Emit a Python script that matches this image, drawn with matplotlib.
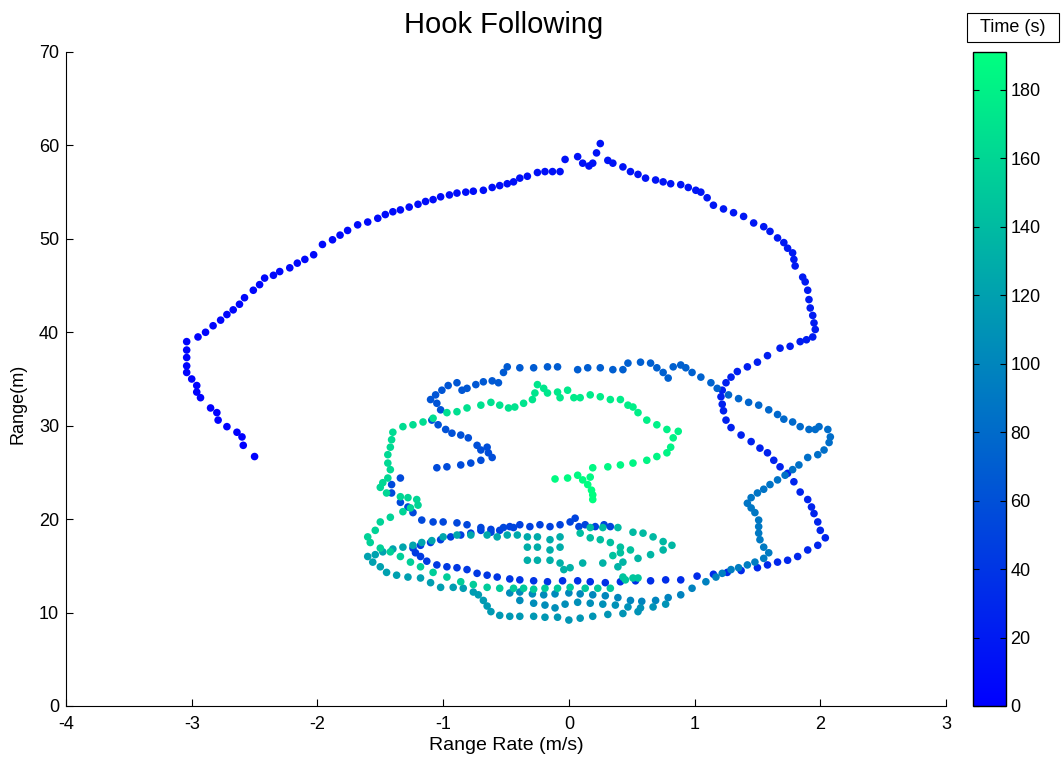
import numpy as np
import matplotlib
matplotlib.use("Agg")
import matplotlib.pyplot as plt
from matplotlib.patches import Rectangle

plt.rcParams['font.family'] = ['Liberation Sans', 'DejaVu Sans']
plt.rcParams['axes.unicode_minus'] = False

# Tracked target: (range rate m/s, range m, time s), one list per leg of the run
leg_outbound = [
    (-2.50, 26.7, 0.0), (-2.59, 27.9, 0.2), (-2.60, 28.8, 0.4), (-2.64, 29.3, 0.6),
    (-2.72, 29.9, 0.8), (-2.79, 30.6, 1.0), (-2.80, 31.4, 1.2), (-2.85, 31.9, 1.4),
    (-2.93, 33.0, 1.6), (-2.96, 33.6, 1.8), (-2.96, 34.3, 2.0), (-3.00, 35.0, 2.2),
    (-3.04, 35.7, 2.4), (-3.04, 36.4, 2.6), (-3.04, 37.3, 2.8), (-3.04, 38.1, 3.0),
    (-3.04, 39.0, 3.2), (-2.95, 39.5, 3.4), (-2.89, 40.0, 3.6), (-2.83, 40.7, 3.8),
    (-2.77, 41.3, 4.0), (-2.72, 41.9, 4.2), (-2.67, 42.4, 4.4), (-2.62, 43.0, 4.6),
    (-2.58, 43.7, 4.8), (-2.51, 44.5, 5.0), (-2.46, 45.1, 5.2), (-2.42, 45.8, 5.4),
    (-2.35, 46.1, 5.6), (-2.30, 46.5, 5.8), (-2.22, 46.9, 6.0), (-2.16, 47.4, 6.2),
    (-2.10, 47.8, 6.4), (-2.03, 48.3, 6.6), (-1.96, 49.4, 6.8), (-1.88, 49.9, 7.0),
    (-1.82, 50.4, 7.2), (-1.76, 50.9, 7.4), (-1.68, 51.5, 7.6), (-1.60, 51.8, 7.8),
    (-1.52, 52.2, 8.0), (-1.46, 52.6, 8.2), (-1.40, 52.9, 8.4), (-1.34, 53.1, 8.6),
    (-1.27, 53.4, 8.8), (-1.20, 53.7, 9.0), (-1.14, 54.0, 9.2), (-1.08, 54.2, 9.4),
    (-1.02, 54.5, 9.6), (-0.95, 54.7, 9.8), (-0.89, 54.9, 10.0), (-0.82, 55.0, 10.2),
    (-0.76, 55.1, 10.4), (-0.68, 55.2, 10.6), (-0.61, 55.5, 10.8), (-0.55, 55.7, 11.0),
    (-0.49, 55.9, 11.2), (-0.44, 56.1, 11.4), (-0.39, 56.5, 11.6), (-0.33, 56.7, 11.8),
    (-0.25, 57.1, 12.0), (-0.19, 57.2, 12.2), (-0.13, 57.2, 12.4), (-0.07, 57.2, 12.6),
    (-0.03, 58.5, 12.8), (0.07, 58.8, 13.0), (0.11, 58.1, 13.2), (0.16, 57.8, 13.4),
    (0.19, 58.1, 13.6), (0.22, 59.2, 13.8), (0.25, 60.2, 14.0), (0.31, 58.4, 14.2),
    (0.35, 58.1, 14.4), (0.43, 57.7, 14.6), (0.49, 57.2, 14.8), (0.55, 56.9, 15.0),
    (0.61, 56.5, 15.2), (0.69, 56.3, 15.4), (0.75, 56.1, 15.6), (0.81, 55.9, 15.8),
    (0.89, 55.8, 16.0), (0.95, 55.5, 16.2), (1.01, 55.2, 16.4), (1.05, 55.0, 16.6),
    (1.10, 54.4, 16.8), (1.15, 53.6, 17.0), (1.23, 53.2, 17.2), (1.31, 52.8, 17.4),
    (1.39, 52.4, 17.6), (1.47, 51.7, 17.8), (1.55, 51.3, 18.0), (1.60, 50.8, 18.2),
    (1.66, 50.1, 18.4), (1.71, 49.6, 18.6), (1.74, 49.0, 18.8), (1.78, 48.5, 19.0),
    (1.79, 47.8, 19.2), (1.80, 47.1, 19.4), (1.86, 45.9, 19.6), (1.88, 45.4, 19.8),
    (1.90, 44.5, 20.0), (1.91, 43.5, 20.2), (1.92, 42.6, 20.4), (1.94, 41.8, 20.6),
    (1.95, 41.0, 20.8), (1.96, 40.3, 21.0), (1.94, 39.5, 21.2), (1.89, 39.2, 21.4),
    (1.84, 39.0, 21.6), (1.76, 38.5, 21.8), (1.68, 38.3, 22.0), (1.58, 37.5, 22.4),
    (1.50, 36.8, 22.6), (1.42, 36.3, 22.8), (1.34, 35.8, 23.0), (1.29, 35.2, 23.2),
    (1.25, 34.6, 23.4), (1.22, 33.8, 23.6), (1.21, 33.1, 23.8), (1.22, 32.3, 24.0),
    (1.23, 31.6, 24.2), (1.25, 30.6, 24.4), (1.29, 29.8, 24.6), (1.37, 29.0, 24.8),
    (1.45, 28.3, 25.0), (1.52, 27.6, 25.2), (1.58, 27.1, 25.4), (1.63, 26.3, 25.6),
    (1.68, 25.6, 25.8), (1.74, 24.9, 26.0), (1.79, 24.0, 26.2), (1.84, 22.9, 26.4),
    (1.90, 22.1, 26.6), (1.93, 21.3, 26.8), (1.95, 20.6, 27.0), (1.98, 19.7, 27.2),
    (2.00, 18.8, 27.4), (2.04, 18.0, 27.6), (1.98, 17.2, 28.0), (1.90, 16.7, 28.4),
    (1.82, 16.0, 28.8), (1.74, 15.6, 29.2), (1.66, 15.4, 29.6), (1.58, 15.1, 30.0),
    (1.50, 14.8, 30.4), (1.37, 14.5, 31.0), (1.26, 14.3, 31.6), (1.15, 14.1, 32.2),
    (1.02, 13.9, 32.8), (0.89, 13.5, 33.4), (0.77, 13.5, 34.0), (0.65, 13.4, 34.6),
    (0.53, 13.4, 35.2), (0.41, 13.3, 35.8), (0.29, 13.2, 36.4), (0.17, 13.3, 37.0),
    (0.07, 13.4, 37.6), (-0.05, 13.4, 38.2), (-0.17, 13.3, 38.8), (-0.28, 13.4, 39.4),
    (-0.39, 13.5, 40.0), (-0.47, 13.6, 40.4), (-0.57, 13.8, 40.8), (-0.65, 14.0, 41.2),
    (-0.73, 14.2, 41.6), (-0.81, 14.6, 42.0), (-0.89, 14.8, 42.4), (-0.97, 14.9, 42.8),
    (-1.05, 15.1, 43.2), (-1.13, 15.5, 43.6), (-1.18, 16.0, 44.0), (-1.22, 16.4, 44.4),
    (-1.24, 16.9, 44.8), (-1.18, 17.2, 45.2), (-1.10, 17.5, 45.6), (-1.02, 17.8, 46.0),
    (-0.94, 18.1, 46.4), (-0.86, 18.3, 46.8), (-0.78, 18.5, 47.2), (-0.70, 18.8, 47.6),
    (-0.62, 18.9, 48.0), (-0.55, 18.8, 48.3), (-0.47, 19.2, 48.6), (-0.39, 19.4, 48.9),
    (-0.31, 19.2, 49.2), (-0.23, 19.4, 49.5), (-0.15, 19.2, 49.8), (-0.07, 19.4, 50.1),
    (0.01, 19.7, 50.4), (0.05, 20.1, 50.6), (0.08, 19.2, 50.8), (0.13, 19.4, 51.0),
    (0.21, 19.2, 51.3), (0.28, 19.4, 51.6), (0.33, 19.2, 51.9),
]

leg_west = [
    (-0.44, 19.1, 52.2), (-0.52, 19.1, 52.4), (-0.62, 18.6, 52.6), (-0.70, 19.1, 52.8),
    (-0.81, 19.4, 53.0), (-0.89, 19.6, 53.2), (-1.00, 19.7, 53.4), (-1.08, 19.7, 53.6),
    (-1.17, 19.9, 53.8), (-1.24, 20.7, 54.0), (-1.28, 21.3, 54.2), (-1.34, 21.8, 54.4),
    (-1.41, 22.8, 54.6), (-1.41, 23.7, 54.8), (-1.34, 24.4, 55.0),
    (-1.05, 25.5, 55.6), (-0.97, 25.6, 56.0), (-0.86, 25.8, 56.4), (-0.78, 26.0, 56.8),
    (-0.70, 26.3, 57.2), (-0.61, 26.6, 57.6), (-0.64, 27.1, 58.0), (-0.65, 27.7, 58.4),
    (-0.70, 27.4, 58.8), (-0.73, 27.9, 59.2), (-0.80, 28.7, 59.6), (-0.86, 29.0, 60.0),
    (-0.93, 29.2, 60.4), (-0.98, 29.6, 60.8), (-1.04, 30.1, 61.2), (-1.09, 30.6, 61.6),
    (-1.02, 31.7, 62.0), (-1.05, 32.4, 62.4), (-1.10, 32.8, 62.8), (-1.06, 33.3, 63.2),
    (-1.01, 33.8, 63.6), (-0.96, 34.3, 64.0), (-0.89, 34.6, 64.4), (-0.85, 33.8, 64.8),
    (-0.81, 34.0, 65.2), (-0.74, 34.4, 65.6), (-0.68, 34.7, 66.0), (-0.61, 34.8, 66.4),
    (-0.56, 34.6, 66.8), (-0.52, 35.7, 67.2), (-0.49, 36.3, 67.6), (-0.39, 36.2, 68.0),
    (-0.28, 36.2, 68.4), (-0.17, 36.3, 68.8), (-0.09, 36.3, 69.2), (0.07, 36.0, 69.6),
    (0.15, 36.2, 70.0), (0.25, 36.2, 70.3), (0.35, 36.0, 70.6), (0.43, 36.0, 70.9),
    (0.47, 36.7, 71.1), (0.57, 36.8, 71.3), (0.65, 36.7, 71.5), (0.70, 36.2, 71.7),
    (0.75, 35.7, 71.8), (0.79, 35.1, 71.9), (0.83, 36.3, 72.0), (0.89, 36.5, 72.2),
]

leg_east = [
    (0.93, 36.2, 72.6), (0.98, 35.7, 73.0), (1.05, 35.2, 73.5), (1.13, 34.6, 74.0),
    (1.18, 34.0, 74.5), (1.27, 33.3, 75.0), (1.35, 32.9, 75.5), (1.43, 32.5, 76.0),
    (1.51, 32.2, 76.5), (1.59, 31.7, 77.0), (1.66, 31.2, 77.5), (1.71, 30.7, 78.0),
    (1.78, 30.4, 78.5), (1.84, 29.9, 79.0), (1.91, 29.6, 79.5), (1.96, 29.6, 80.0),
    (1.99, 29.9, 80.5), (2.06, 29.6, 81.0), (2.08, 28.8, 81.5), (2.07, 28.2, 82.0),
    (2.03, 27.4, 82.5), (1.98, 26.9, 83.0), (1.90, 26.6, 83.5), (1.83, 25.8, 84.0),
    (1.78, 25.3, 84.5), (1.72, 24.7, 85.0), (1.66, 24.2, 85.5), (1.60, 23.7, 86.0),
    (1.55, 23.2, 86.5), (1.50, 22.8, 87.0), (1.45, 22.3, 87.5), (1.42, 21.7, 88.0),
    (1.45, 21.2, 88.5), (1.48, 20.7, 89.0), (1.51, 19.9, 89.5), (1.51, 19.2, 90.0),
    (1.51, 18.5, 90.5), (1.52, 17.8, 91.0), (1.55, 17.0, 91.5), (1.59, 16.4, 92.0),
    (1.55, 15.8, 92.5), (1.48, 15.4, 93.0), (1.42, 15.1, 93.5), (1.35, 14.8, 94.0),
    (1.29, 14.6, 94.5), (1.22, 14.2, 95.0), (1.17, 13.8, 95.5),
]

leg_south = [
    (1.09, 13.3, 96.5), (0.98, 12.6, 97.0), (0.89, 11.9, 97.5), (0.79, 11.6, 98.0),
    (0.69, 11.3, 98.5), (0.58, 11.2, 99.0), (0.49, 11.3, 99.5), (0.39, 11.6, 100.0),
    (0.29, 11.8, 100.5), (0.19, 11.9, 101.0), (0.09, 12.0, 101.5), (0.00, 12.1, 102.0),
    (-0.11, 12.0, 102.5), (-0.20, 11.9, 103.0), (-0.29, 12.0, 103.5), (-0.39, 12.2, 104.0),
    (-0.47, 12.1, 104.5), (-0.39, 11.3, 105.0), (-0.28, 11.0, 105.4), (-0.19, 10.8, 105.8),
    (-0.11, 10.5, 106.2), (-0.03, 10.9, 106.6), (0.07, 11.1, 107.0), (0.17, 11.0, 107.4),
    (0.27, 10.9, 107.8), (0.37, 10.8, 108.2), (0.47, 10.6, 108.6), (0.57, 10.5, 109.0),
    (0.67, 10.6, 109.4), (0.77, 10.9, 109.8), (0.55, 10.1, 110.4), (0.43, 9.9, 110.8),
    (0.31, 9.8, 111.2), (0.19, 9.6, 111.6), (0.09, 9.4, 112.0), (0.00, 9.2, 112.4),
    (-0.09, 9.5, 112.8), (-0.19, 9.5, 113.2), (-0.28, 9.6, 113.6), (-0.39, 9.6, 114.0),
    (-0.47, 9.6, 114.4), (-0.55, 9.7, 114.8), (-0.62, 10.1, 115.2), (-0.65, 10.7, 115.6),
    (-0.68, 11.3, 116.0), (-0.72, 11.9, 116.4), (-0.76, 12.2, 116.8), (-0.84, 12.6, 117.2),
    (-0.92, 12.7, 117.6), (-1.02, 12.7, 118.0), (-1.10, 13.2, 118.4), (-1.18, 13.7, 118.8),
    (-1.28, 13.8, 119.2), (-1.37, 14.0, 119.6), (-1.45, 14.3, 120.0), (-1.50, 14.9, 120.4),
    (-1.56, 15.4, 120.8), (-1.60, 16.0, 121.2),
]

leg_centre = [
    (-1.54, 16.2, 121.6), (-1.48, 16.5, 122.0), (-1.40, 16.8, 122.4), (-1.32, 17.0, 122.8),
    (-1.24, 17.2, 123.2), (-1.17, 17.5, 123.6), (-1.09, 17.7, 124.0), (-1.00, 18.1, 124.4),
    (-0.89, 18.3, 124.8), (-0.78, 18.3, 125.2), (-0.65, 18.3, 125.6), (-0.57, 18.1, 126.0),
    (-0.49, 18.3, 126.4), (-0.41, 18.3, 126.8), (-0.33, 18.1, 127.2), (-0.25, 18.1, 127.6),
    (-0.15, 17.8, 128.0), (-0.07, 18.1, 128.4), (-0.07, 17.0, 128.8), (-0.15, 16.7, 129.2),
    (-0.25, 17.0, 129.6), (-0.33, 17.0, 130.0), (-0.33, 15.6, 130.4), (-0.25, 15.6, 130.8),
    (-0.15, 15.6, 131.2), (-0.07, 15.3, 131.6), (-0.04, 14.6, 132.0), (0.01, 14.8, 132.4),
    (0.11, 15.3, 132.8), (0.27, 15.3, 133.4), (0.39, 14.9, 134.0), (0.43, 15.4, 134.6),
    (0.55, 15.8, 135.2), (0.65, 16.2, 135.8), (0.75, 16.7, 136.4), (0.82, 17.2, 137.0),
    (0.75, 17.6, 137.6), (0.67, 18.1, 138.2), (0.59, 18.5, 138.8), (0.51, 18.6, 139.4),
    (0.39, 19.1, 140.0), (0.27, 19.1, 140.6), (0.17, 19.1, 141.2), (0.09, 18.5, 141.8),
    (0.17, 18.0, 142.4), (0.25, 17.8, 143.0), (0.33, 17.5, 143.6), (0.41, 17.0, 144.2),
    (0.49, 16.7, 144.8), (0.41, 16.4, 145.4), (0.35, 16.1, 146.0),
]

leg_return = [
    (0.43, 13.8, 146.8), (0.51, 13.7, 147.2), (0.55, 13.7, 147.5), (0.45, 13.5, 147.8),
    (0.33, 12.6, 148.2), (0.23, 12.6, 148.6), (0.13, 12.6, 149.0), (0.01, 12.7, 149.4),
    (-0.09, 12.6, 149.8), (-0.19, 12.6, 150.2), (-0.28, 12.5, 150.6), (-0.36, 12.6, 151.0),
    (-0.44, 12.6, 151.4), (-0.55, 12.6, 151.8), (-0.65, 12.7, 152.2), (-0.76, 13.0, 152.6),
    (-0.86, 13.3, 153.0), (-0.97, 13.8, 153.4), (-1.08, 14.3, 153.8), (-1.18, 14.9, 154.2),
    (-1.26, 15.4, 154.6), (-1.34, 16.0, 155.0), (-1.42, 16.5, 155.4), (-1.50, 16.9, 155.8),
    (-1.58, 17.5, 156.2), (-1.60, 18.1, 156.6), (-1.54, 18.8, 157.0), (-1.50, 19.7, 157.4),
    (-1.42, 20.2, 157.8), (-1.32, 20.8, 158.2), (-1.26, 21.2, 158.5), (-1.20, 21.5, 158.8),
    (-1.21, 22.1, 159.1), (-1.28, 22.3, 159.4), (-1.34, 22.4, 159.7), (-1.45, 22.8, 160.0),
    (-1.50, 23.4, 160.3), (-1.48, 23.9, 160.6),
]

leg_hook = [
    (-1.44, 24.4, 161.0), (-1.42, 25.3, 161.5), (-1.44, 26.0, 162.0), (-1.44, 26.9, 162.5),
    (-1.42, 27.7, 163.0), (-1.41, 28.5, 163.5), (-1.40, 29.3, 164.0), (-1.32, 29.9, 164.5),
    (-1.24, 30.1, 165.0), (-1.16, 30.4, 165.5), (-1.08, 30.8, 166.0), (-0.97, 31.4, 166.5),
    (-0.89, 31.5, 167.0), (-0.81, 31.9, 167.5), (-0.70, 32.2, 168.0), (-0.62, 32.5, 168.5),
    (-0.55, 32.2, 169.0), (-0.48, 31.9, 169.5), (-0.43, 32.0, 170.0), (-0.36, 32.4, 170.5),
    (-0.29, 32.8, 171.0), (-0.27, 33.5, 171.5), (-0.25, 34.4, 172.0), (-0.20, 34.0, 172.5),
    (-0.17, 33.5, 173.0), (-0.09, 33.6, 173.5), (-0.01, 33.8, 174.0), (-0.07, 33.0, 174.5),
    (0.04, 33.0, 175.0), (0.09, 33.0, 175.5), (0.17, 33.3, 176.0), (0.25, 33.1, 176.5),
    (0.33, 32.8, 177.0), (0.41, 32.8, 177.5), (0.47, 32.2, 178.0), (0.51, 32.0, 178.5),
    (0.55, 31.4, 179.0), (0.62, 30.6, 179.5), (0.70, 30.1, 180.0), (0.78, 29.6, 180.5),
    (0.87, 29.4, 181.0), (0.83, 28.7, 181.5), (0.81, 27.7, 182.0), (0.78, 27.1, 182.5),
    (0.70, 26.7, 183.0), (0.62, 26.3, 183.5), (0.51, 26.0, 184.0), (0.41, 25.8, 184.5),
    (0.31, 25.6, 185.0), (0.19, 25.5, 185.5), (0.17, 24.5, 186.0), (0.07, 24.7, 186.5),
    (-0.01, 24.4, 187.0), (-0.11, 24.3, 187.5), (0.11, 24.2, 188.5), (0.15, 23.7, 189.2),
    (0.18, 23.1, 189.8), (0.19, 22.6, 190.4), (0.19, 22.1, 191.0),
]

legs = [leg_outbound, leg_west, leg_east, leg_south, leg_centre, leg_return, leg_hook]
track = np.array([p for leg in legs for p in leg])
range_rate, rng, time_s = track[:, 0], track[:, 1], track[:, 2]

x_ticks = list(range(-4, 4))
y_ticks = list(range(0, 80, 10))
cbar_ticks = list(range(0, 200, 20))
time_max = 191

W, H = 1061, 760
fig = plt.figure(figsize=(W / 100, H / 100), dpi=100)
ax = fig.add_axes([66 / W, 1 - 706 / H, 880 / W, 654 / H])
cax = fig.add_axes([973 / W, 1 - 706 / H, 33 / W, 654 / H])

sc = ax.scatter(range_rate, rng, c=time_s, cmap='winter', vmin=0, vmax=time_max,
                s=30, linewidths=0)

ax.set_xlim(-4, 3)
ax.set_ylim(0, 70)
ax.set_xticks(x_ticks)
ax.set_yticks(y_ticks)
for side in ('top', 'right'):
    ax.spines[side].set_visible(False)
for side in ('left', 'bottom'):
    ax.spines[side].set_linewidth(0.8)
ax.tick_params(direction='in', length=5, width=0.8, labelsize=13)
ax.tick_params(axis='x', pad=7)
ax.tick_params(axis='y', pad=5)

cb = fig.colorbar(sc, cax=cax, ticks=cbar_ticks)
cb.outline.set_linewidth(1.0)
cax.tick_params(direction='in', length=4, width=0.8, left=True, right=True,
                labelsize=13, pad=3)

fig.text(504 / W, 1 - 25 / H, 'Hook Following', ha='center', va='center', fontsize=21)
fig.text(506 / W, 1 - 746 / H, 'Range Rate (m/s)', ha='center', va='center', fontsize=14)
fig.text(18 / W, 1 - 404 / H, 'Range(m)', ha='center', va='center', rotation=90, fontsize=13)

fig.add_artist(Rectangle((967 / W, 1 - 42 / H), 92 / W, 29 / H, transform=fig.transFigure,
                         facecolor='white', edgecolor='black', linewidth=0.8))
fig.text(1013 / W, 1 - 27 / H, 'Time (s)', ha='center', va='center', fontsize=13)

fig.savefig('out.png', dpi=100)
